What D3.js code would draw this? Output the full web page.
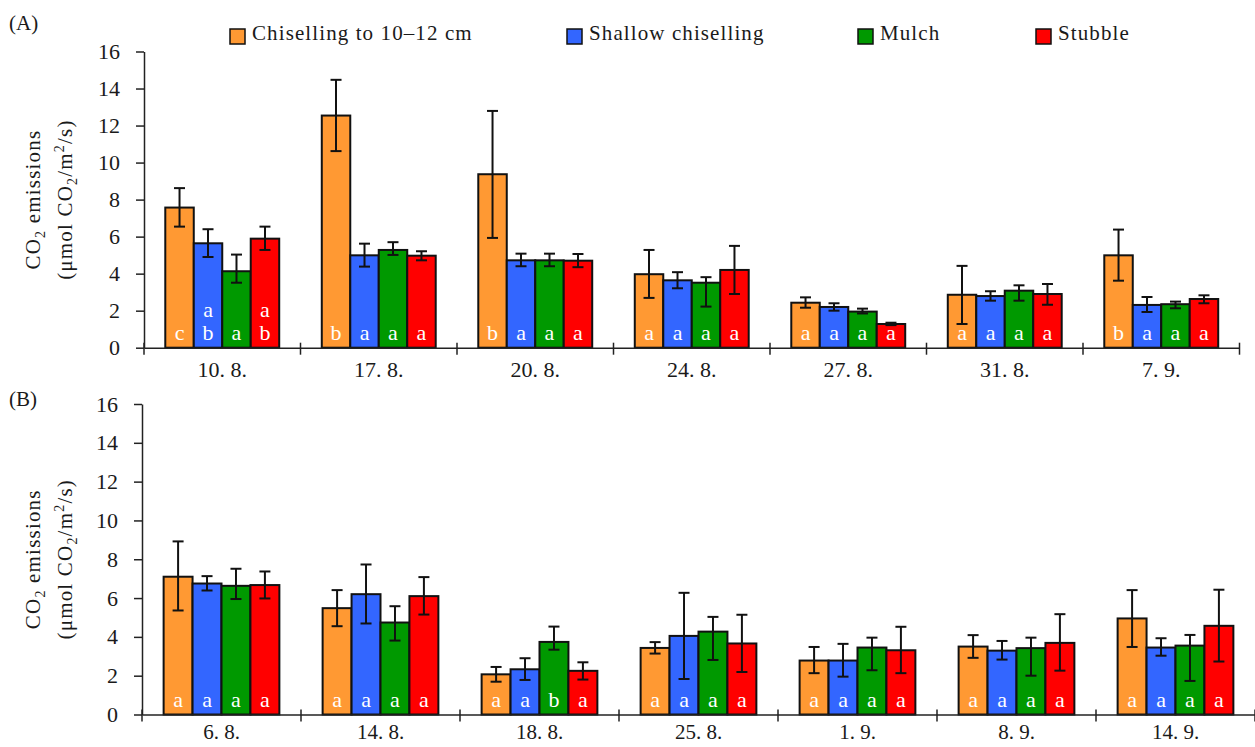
<!DOCTYPE html>
<html>
<head>
<meta charset="utf-8">
<title>CO2 emissions</title>
<script src="https://d3js.org/d3.v7.min.js"></script>
<style>
  body { margin: 0; background: #fff; }
  svg { display: block; }
  .axis path, .axis line { stroke: #222; stroke-width: 1.5; }
</style>
</head>
<body>
<svg width="1255" height="747"></svg>
<script>
// treatments
var series = ["Chisselling", "Shallow", "Mulch", "Stubble"];
var seriesNames = ["Chiselling to 10\u201312 cm", "Shallow chiselling", "Mulch", "Stubble"];
var colors = ["#ff9933", "#3366ff", "#009900", "#ff0000"];

// panel A
var datesA = ["10. 8.", "17. 8.", "20. 8.", "24. 8.", "27. 8.", "31. 8.", "7. 9."];
var meanA = [
  [7.57, 12.54, 9.37, 3.97, 2.43, 2.86, 4.99],
  [5.64, 4.99, 4.72, 3.64, 2.20, 2.79, 2.31],
  [4.13, 5.28, 4.72, 3.51, 1.95, 3.08, 2.35],
  [5.89, 4.97, 4.70, 4.20, 1.28, 2.90, 2.63]
];
var hiA = [
  [8.62, 14.47, 12.79, 5.28, 2.72, 4.42, 6.38],
  [6.40, 5.62, 5.08, 4.08, 2.40, 3.05, 2.74],
  [5.03, 5.70, 5.08, 3.81, 2.11, 3.37, 2.49],
  [6.54, 5.21, 5.06, 5.50, 1.35, 3.44, 2.83]
];
var loA = [
  [6.54, 10.62, 5.93, 2.69, 2.16, 1.28, 3.62],
  [4.90, 4.38, 4.40, 3.21, 2.00, 2.54, 1.93],
  [3.51, 5.01, 4.40, 2.22, 1.85, 2.54, 2.13],
  [5.28, 4.72, 4.35, 2.90, 1.22, 2.32, 2.40]
];
var lettersA = [
  ["c", "b", "b", "a", "a", "a", "b"],
  ["ab", "a", "a", "a", "a", "a", "a"],
  ["a", "a", "a", "a", "a", "a", "a"],
  ["ab", "a", "a", "a", "a", "a", "a"]
];

// panel B
var datesB = ["6. 8.", "14. 8.", "18. 8.", "25. 8.", "1. 9.", "8. 9.", "14. 9."];
var meanB = [
  [7.10, 5.48, 2.07, 3.43, 2.78, 3.50, 4.95],
  [6.75, 6.20, 2.33, 4.05, 2.78, 3.29, 3.45],
  [6.63, 4.74, 3.74, 4.27, 3.45, 3.42, 3.55],
  [6.67, 6.10, 2.25, 3.66, 3.31, 3.69, 4.57]
];
var hiB = [
  [8.92, 6.41, 2.45, 3.73, 3.48, 4.09, 6.41],
  [7.13, 7.73, 2.90, 6.27, 3.64, 3.79, 3.93],
  [7.51, 5.58, 4.53, 5.03, 3.96, 3.96, 4.10],
  [7.37, 7.08, 2.69, 5.14, 4.52, 5.17, 6.43]
];
var loB = [
  [5.36, 4.55, 1.69, 3.14, 2.13, 2.92, 3.48],
  [6.39, 4.69, 1.78, 1.83, 1.95, 2.83, 3.03],
  [5.95, 3.81, 3.34, 2.81, 2.28, 2.00, 1.73],
  [5.98, 5.15, 1.80, 2.19, 2.13, 2.26, 2.73]
];
var lettersB = [
  ["a", "a", "a", "a", "a", "a", "a"],
  ["a", "a", "a", "a", "a", "a", "a"],
  ["a", "a", "b", "a", "a", "a", "a"],
  ["a", "a", "a", "a", "a", "a", "a"]
];

var yTicks = [0, 2, 4, 6, 8, 10, 12, 14, 16];
var serif = "'Liberation Serif', 'Times New Roman', serif";

var svg = d3.select("svg");

drawPanel({ label: "(A)", labelY: 30, left: 144, right: 1239.5, y0: 347.7, y16: 51.5, xPad: 14, xFont: 22,
  dates: datesA, mean: meanA, hi: hiA, lo: loA, letters: lettersA });
drawPanel({ label: "(B)", labelY: 406, left: 142, right: 1255, y0: 714.5, y16: 404, xPad: 10, xFont: 21,
  dates: datesB, mean: meanB, hi: hiB, lo: loB, letters: lettersB });

// legend
var legendX = [230, 567, 858, 1036];
var lg = svg.append("g").attr("class", "legend");
series.forEach(function(s, i) {
  lg.append("rect")
    .attr("x", legendX[i]).attr("y", 29)
    .attr("width", 15).attr("height", 15)
    .attr("fill", colors[i]).attr("stroke", "#111").attr("stroke-width", 1.5);
  lg.append("text")
    .attr("x", legendX[i] + 22).attr("y", 40)
    .style("font-size", "21px").style("letter-spacing", "1.1px")
    .text(seriesNames[i]);
});

// one serif face for every label
svg.selectAll("text").style("font-family", serif).style("fill", "#1a1a1a");
svg.selectAll("text.letter").style("fill", "#fff");

function drawPanel(p) {
  var g = svg.append("g");
  var x = d3.scaleBand().domain(p.dates).range([p.left, p.right]);
  var pad = x.bandwidth() * 0.136;
  var xi = d3.scaleBand().domain(series).range([pad, x.bandwidth() - pad]);
  var y = d3.scaleLinear().domain([0, 16]).range([p.y0, p.y16]);

  // panel label
  g.append("text").attr("x", 9).attr("y", p.labelY).style("font-size", "21px").text(p.label);

  // y axis
  g.append("g").attr("class", "axis")
    .attr("transform", "translate(" + p.left + ",0)")
    .call(d3.axisLeft(y).tickValues(yTicks).tickSize(8).tickSizeOuter(0).tickPadding(16))
    .call(function(a) { a.selectAll("text").style("font-size", "22px"); });

  // y title
  var cy = (p.y0 + p.y16) / 2;
  var t1 = g.append("text").attr("transform", "translate(40," + cy + ") rotate(-90)")
    .attr("text-anchor", "middle").style("font-size", "21px").style("letter-spacing", "1.2px");
  t1.append("tspan").text("CO");
  t1.append("tspan").style("font-size", "14px").attr("dy", 5).text("2");
  t1.append("tspan").attr("dy", -5).text(" emissions");
  var t2 = g.append("text").attr("transform", "translate(72," + cy + ") rotate(-90)")
    .attr("text-anchor", "middle").style("font-size", "21px").style("letter-spacing", "1.2px");
  t2.append("tspan").text("(\u03bcmol CO");
  t2.append("tspan").style("font-size", "14px").attr("dy", 5).text("2");
  t2.append("tspan").attr("dy", -5).text("/m");
  t2.append("tspan").style("font-size", "14px").attr("dy", -8).text("2");
  t2.append("tspan").attr("dy", 8).text("/s)");

  // bars
  series.forEach(function(s, si) {
    var grp = g.append("g");
    p.dates.forEach(function(d, di) {
      var bx = x(d) + xi(s);
      var v = p.mean[si][di];
      grp.append("rect")
        .attr("x", bx).attr("y", y(v))
        .attr("width", xi.bandwidth()).attr("height", y(0) - y(v))
        .attr("fill", colors[si]).attr("stroke", "#111").attr("stroke-width", 2);
      var cx = bx + xi.bandwidth() / 2;
      var lt = p.letters[si][di];
      // letters stacked from the bottom
      lt.split("").reverse().forEach(function(ch, k) {
        grp.append("text").attr("class", "letter")
          .attr("x", cx).attr("y", y(0) - 8 - k * 23)
          .attr("text-anchor", "middle").style("font-size", "22px").text(ch);
      });
    });
  });

  // error bars
  series.forEach(function(s, si) {
    p.dates.forEach(function(d, di) {
      var cx = x(d) + xi(s) + xi.bandwidth() / 2;
      var e = g.append("g").attr("stroke", "#111").attr("stroke-width", 2);
      e.append("line").attr("x1", cx).attr("x2", cx)
        .attr("y1", y(p.hi[si][di])).attr("y2", y(p.lo[si][di]));
      [p.hi[si][di], p.lo[si][di]].forEach(function(v) {
        e.append("line").attr("x1", cx - 5.5).attr("x2", cx + 5.5)
          .attr("y1", y(v)).attr("y2", y(v));
      });
    });
  });

  // x axis
  var xa = g.append("g").attr("class", "axis")
    .attr("transform", "translate(0," + y(0) + ")")
    .call(d3.axisBottom(x).tickSize(0).tickSizeOuter(0).tickPadding(p.xPad));
  xa.selectAll("text").style("font-size", p.xFont + "px");
  var bounds = p.dates.map(function(d) { return x(d); }).concat([x.range()[1]]);
  xa.selectAll(".bound").data(bounds).enter().append("line")
    .attr("class", "bound")
    .attr("x1", function(d) { return d; }).attr("x2", function(d) { return d; })
    .attr("y1", -5).attr("y2", 7);
}
</script>
</body>
</html>
